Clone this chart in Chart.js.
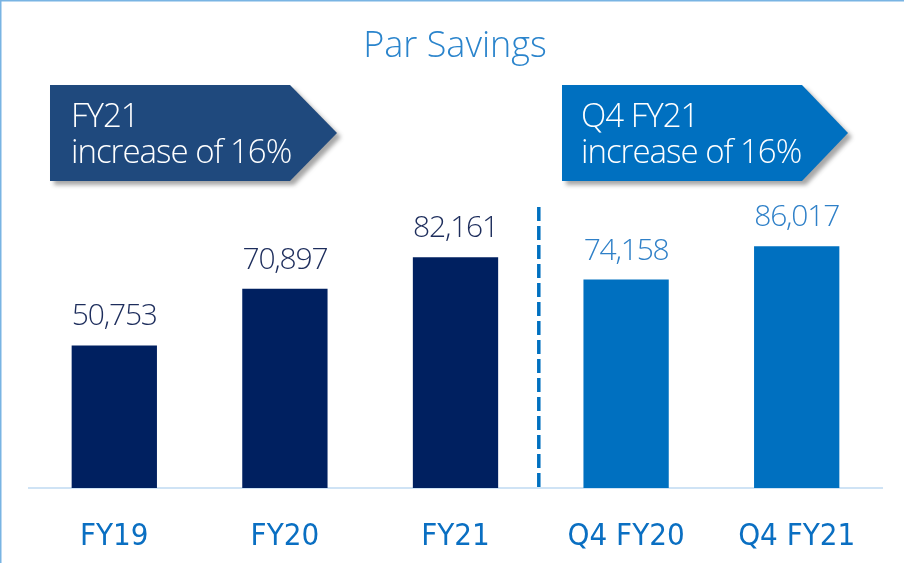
<!DOCTYPE html>
<html>
<head>
<meta charset="utf-8">
<script src="https://cdn.jsdelivr.net/npm/chart.js@4.4.1/dist/chart.umd.min.js"></script>
<style>
  html, body { margin: 0; padding: 0; background: #ffffff; }
  canvas { display: block; }
</style>
</head>
<body>
<canvas id="chart" width="904" height="563"></canvas>
<script>
// Par savings balances by period
const categories = ['FY19', 'FY20', 'FY21', 'Q4 FY20', 'Q4 FY21'];
const parSavings = [50753, 70897, 82161, 74158, 86017];
const periodType = ['year', 'year', 'year', 'quarter', 'quarter'];
const chartTitle = 'Par Savings';
const yearCallout = ['FY21', 'increase of 16%'];
const quarterCallout = ['Q4 FY21', 'increase of 16%'];

const NAVY = '#002060';
const BLUE = '#0070c0';
const SANS = "'Open Sans', 'Noto Sans', sans-serif";
const NARROW = "'DejaVu Sans Condensed', 'Liberation Sans Narrow', sans-serif";

const barColors = periodType.map(t => (t === 'year' ? NAVY : BLUE));
const labelColors = periodType.map(t => (t === 'year' ? '#1d2d5c' : '#2f80c8'));

// Title, frame and arrow-shaped callout banners
const decorations = {
  id: 'decorations',
  beforeDraw(chart) {
    const ctx = chart.ctx;
    ctx.save();
    ctx.fillStyle = '#ffffff';
    ctx.fillRect(0, 0, chart.width, chart.height);
    // thin frame on top and left edges
    ctx.strokeStyle = '#79b4e3';
    ctx.lineWidth = 1.5;
    ctx.beginPath();
    ctx.moveTo(0.75, chart.height);
    ctx.lineTo(0.75, 0.75);
    ctx.lineTo(chart.width, 0.75);
    ctx.stroke();
    ctx.restore();
  },
  afterDraw(chart) {
    const ctx = chart.ctx;
    ctx.save();
    // title
    ctx.font = '300 36px ' + SANS;
    ctx.fillStyle = '#2a84cc';
    ctx.textAlign = 'center';
    ctx.textBaseline = 'alphabetic';
    ctx.fillText(chartTitle, 455, 57);

    const banner = (left, right, tip, top, bottom, color, lines, textX) => {
      const mid = (top + bottom) / 2;
      ctx.save();
      ctx.shadowColor = 'rgba(60,60,60,0.45)';
      ctx.shadowBlur = 4;
      ctx.shadowOffsetX = 4;
      ctx.shadowOffsetY = 4;
      ctx.fillStyle = color;
      ctx.beginPath();
      ctx.moveTo(left, top);
      ctx.lineTo(right, top);
      ctx.lineTo(tip, mid);
      ctx.lineTo(right, bottom);
      ctx.lineTo(left, bottom);
      ctx.closePath();
      ctx.fill();
      ctx.restore();
      ctx.save();
      ctx.fillStyle = '#ffffff';
      ctx.font = '300 33px ' + SANS;
      ctx.letterSpacing = '-1px';
      ctx.textAlign = 'left';
      ctx.textBaseline = 'alphabetic';
      ctx.fillText(lines[0], textX, 127);
      ctx.fillText(lines[1], textX, 163);
      ctx.restore();
    };
    banner(50, 290, 337, 85, 181, '#1f497d', yearCallout, 71);
    banner(562, 802, 848, 85, 181, BLUE, quarterCallout, 581);
    ctx.restore();
  }
};

// Value labels above each bar and the divider between yearly and quarterly bars
const barAnnotations = {
  id: 'barAnnotations',
  afterDatasetsDraw(chart) {
    const ctx = chart.ctx;
    const meta = chart.getDatasetMeta(0);
    const area = chart.chartArea;
    const x = chart.scales.x;
    ctx.save();
    // dashed divider
    const splitIndex = periodType.indexOf('quarter');
    const divX = (x.getPixelForValue(splitIndex - 1) + x.getPixelForValue(splitIndex)) / 2 - 2;
    ctx.strokeStyle = BLUE;
    ctx.lineWidth = 3.5;
    ctx.setLineDash([14, 5]);
    ctx.beginPath();
    ctx.moveTo(divX, area.top);
    ctx.lineTo(divX, area.bottom);
    ctx.stroke();
    ctx.setLineDash([]);

    ctx.font = '300 30px ' + SANS;
    ctx.letterSpacing = '-1.2px';
    ctx.textAlign = 'center';
    ctx.textBaseline = 'alphabetic';
    meta.data.forEach((bar, i) => {
      ctx.fillStyle = labelColors[i];
      ctx.fillText(parSavings[i].toLocaleString('en-US'), bar.x, bar.y - 20);
    });
    ctx.restore();
  }
};

new Chart(document.getElementById('chart'), {
  type: 'bar',
  data: {
    labels: categories,
    datasets: [{
      label: chartTitle,
      data: parSavings,
      backgroundColor: barColors,
      borderWidth: 0,
      categoryPercentage: 1,
      barPercentage: 0.5
    }]
  },
  options: {
    responsive: false,
    animation: false,
    layout: { padding: { top: 207, left: 29, right: 22, bottom: 0 } },
    plugins: {
      legend: { display: false },
      title: { display: false },
      tooltip: { enabled: false }
    },
    scales: {
      x: {
        grid: { display: false, drawTicks: false },
        border: { display: true, color: '#cfe3f5', width: 2 },
        ticks: {
          color: '#0a6fc2',
          font: { family: NARROW, size: 31 },
          padding: 30
        },
        afterFit(scale) { scale.height = 75; }
      },
      y: {
        display: false,
        min: 0,
        max: 100000
      }
    }
  },
  plugins: [decorations, barAnnotations]
});
</script>
</body>
</html>
